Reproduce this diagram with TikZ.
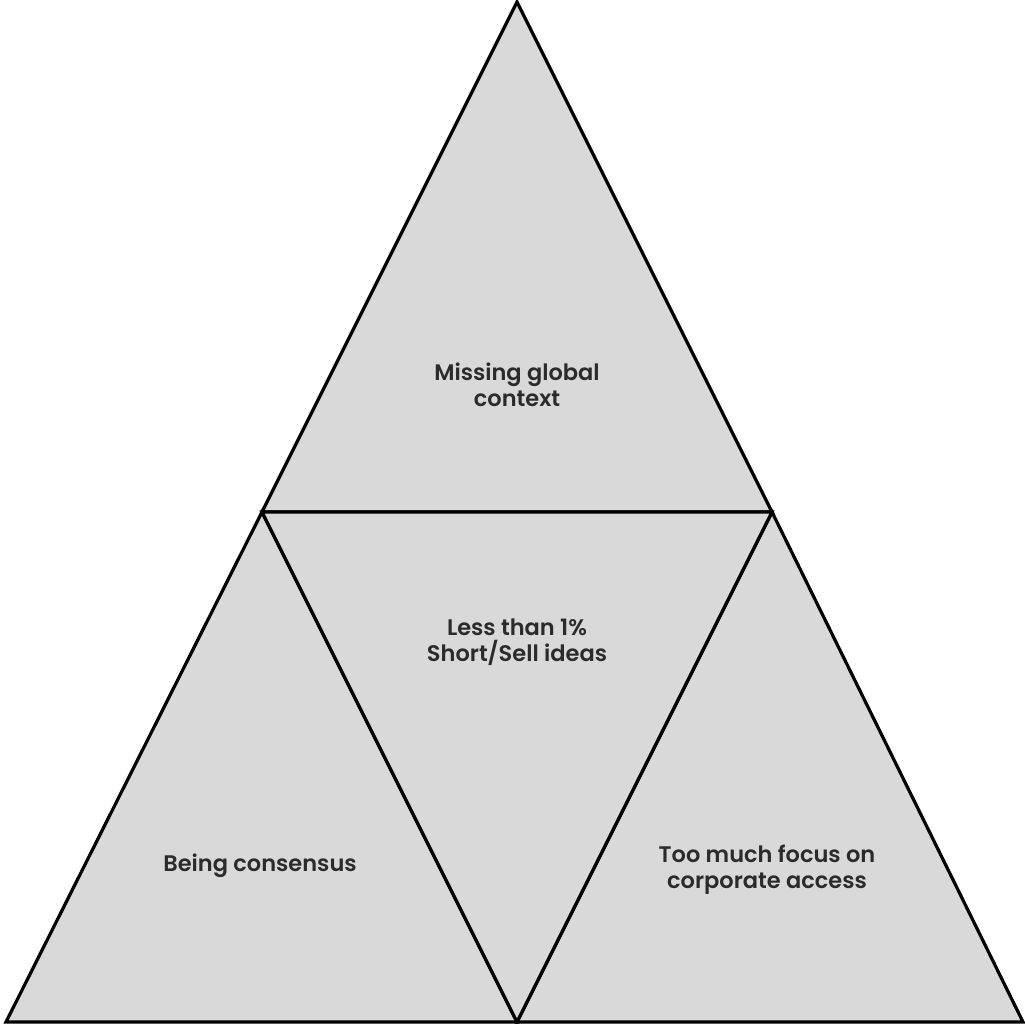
\documentclass[tikz,border=0pt]{standalone}
\usepackage{fontspec}
\setmainfont{Poppins}[BoldFont={Poppins SemiBold}]
\usepackage{tikz}
\usetikzlibrary{positioning}
\definecolor{tri}{HTML}{D9D9D9}
\definecolor{ink}{HTML}{2B2B2B}

\begin{document}
\begin{tikzpicture}[x=1pt, y=-1pt,
  part/.style={draw=black, fill=tri, line width=3.2pt, line join=miter},
  lbl/.style={font=\fontsize{22.5}{26}\selectfont\bfseries, text=ink, align=center}
]
  \useasboundingbox (0,0) rectangle (1025,1024);

  % corners
  \coordinate (apex) at (517,2);
  \coordinate (ml) at (262,512);
  \coordinate (mr) at (772,512);
  \coordinate (bl) at (6,1022);
  \coordinate (bm) at (517,1022);
  \coordinate (br) at (1023,1022);

  \draw[part] (apex) -- (mr) -- (ml) -- cycle;
  \draw[part] (ml) -- (bm) -- (bl) -- cycle;
  \draw[part] (mr) -- (br) -- (bm) -- cycle;
  \draw[part] (ml) -- (mr) -- (bm) -- cycle;

  \node[lbl] (top)   at (517,385) {Missing global\\context};
  \node[lbl] (mid)   at (517,642) {Less than 1\%\\Short/Sell ideas};
  \node[lbl] (left)  at (260,866) {Being consensus};
  \node[lbl] (right) at (767,870) {Too much focus on\\corporate access};
\end{tikzpicture}
\end{document}
